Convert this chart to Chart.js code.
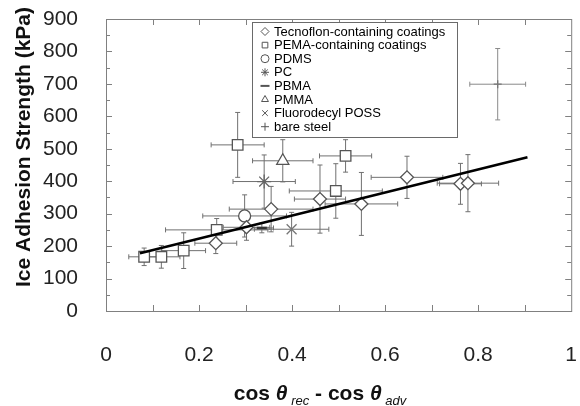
<!DOCTYPE html>
<html>
<head>
<meta charset="utf-8">
<script src="https://cdn.jsdelivr.net/npm/chart.js@4.4.1/dist/chart.umd.min.js"></script>
<style>
  html, body { margin: 0; padding: 0; background: #fff; }
</style>
</head>
<body>
<canvas id="chart" width="580" height="406"></canvas>
<script>
// axis tick labels
const xTickLabels = ['0', '0.2', '0.4', '0.6', '0.8', '1'];
const yTickLabels = ['0', '100', '200', '300', '400', '500', '600', '700', '800', '900'];

// Tecnoflon-containing coatings (diamonds)
const tecX = [0.236, 0.302, 0.355, 0.460, 0.549, 0.647, 0.762, 0.778];
const tecY = [209, 258, 314, 345, 330, 412, 392, 394];
const tecXErr = [0.045, 0.05, 0.09, 0.055, 0.078, 0.077, 0.045, 0.066];
const tecYErr = [32, 40, 70, 105, 97, 65, 63, 88];

// PEMA-containing coatings (squares)
const pemaX = [0.082, 0.119, 0.167, 0.238, 0.283, 0.494, 0.515];
const pemaY = [167, 167, 186, 250, 512, 370, 478];
const pemaXErr = [0.033, 0.04, 0.047, 0.11, 0.057, 0.1, 0.056];
const pemaYErr = [27, 35, 55, 35, 100, 84, 50];

// single materials
const pdmsX = [0.298], pdmsY = [293], pdmsXErr = [0.09], pdmsYErr = [65];
const pcX = [0.34], pcY = [399], pcXErr = [0.067], pcYErr = [82];
const pbmaX = [0.335], pbmaY = [256], pbmaXErr = [0.025], pbmaYErr = [15];
const pmmaX = [0.38], pmmaY = [463], pmmaXErr = [0.065], pmmaYErr = [65];
const possX = [0.399], possY = [252], possXErr = [0.08], possYErr = [52];
const steelX = [0.842], steelY = [699], steelXErr = [0.06], steelYErr = [110];

// linear fit, end points
const fitX = [0.073, 0.906];
const fitY = [178, 474];

const FONT = 'Liberation Sans, Arial, sans-serif';

function toPoints(xs, ys) {
  return xs.map((x, i) => ({ x: x, y: ys[i] }));
}

function series(label, xs, ys, xErr, yErr, style, radius, extra) {
  return Object.assign({
    label: label,
    data: toPoints(xs, ys),
    xErr: xErr,
    yErr: yErr,
    pointStyle: style,
    pointRadius: radius,
    pointBackgroundColor: '#fff',
    pointBorderColor: '#555',
    pointBorderWidth: 1.3
  }, extra || {});
}

// error bars under the markers
const errorBars = {
  id: 'errorBars',
  beforeDatasetsDraw(chart) {
    const ctx = chart.ctx;
    const xs = chart.scales.x, ys = chart.scales.y;
    ctx.save();
    chart.data.datasets.forEach(ds => {
      if (!ds.xErr) return;
      ctx.strokeStyle = ds.errColor || '#707070';
      ctx.lineWidth = 1;
      ds.data.forEach((p, i) => {
        const cx = xs.getPixelForValue(p.x), cy = ys.getPixelForValue(p.y);
        const x1 = xs.getPixelForValue(p.x - ds.xErr[i]), x2 = xs.getPixelForValue(p.x + ds.xErr[i]);
        const y1 = ys.getPixelForValue(p.y - ds.yErr[i]), y2 = ys.getPixelForValue(p.y + ds.yErr[i]);
        ctx.beginPath();
        ctx.moveTo(x1, cy); ctx.lineTo(x2, cy);
        ctx.moveTo(x1, cy - 2.5); ctx.lineTo(x1, cy + 2.5);
        ctx.moveTo(x2, cy - 2.5); ctx.lineTo(x2, cy + 2.5);
        ctx.moveTo(cx, y1); ctx.lineTo(cx, y2);
        ctx.moveTo(cx - 2.5, y1); ctx.lineTo(cx + 2.5, y1);
        ctx.moveTo(cx - 2.5, y2); ctx.lineTo(cx + 2.5, y2);
        ctx.stroke();
      });
    });
    ctx.restore();
  }
};

// box frame with inward ticks on all four sides
const frame = {
  id: 'frame',
  afterDraw(chart) {
    const ctx = chart.ctx;
    const a = chart.chartArea;
    const xs = chart.scales.x, ys = chart.scales.y;
    ctx.save();
    ctx.strokeStyle = '#808080';
    ctx.lineWidth = 1;
    ctx.strokeRect(a.left + 0.5, a.top + 0.5, a.right - a.left, a.bottom - a.top);
    ctx.beginPath();
    for (let i = 1; i < 18; i++) {
      const py = Math.round(ys.getPixelForValue(i * 50)) + 0.5;
      const len = i % 2 === 0 ? 6 : 4;
      ctx.moveTo(a.left, py); ctx.lineTo(a.left + len, py);
      ctx.moveTo(a.right, py); ctx.lineTo(a.right - len, py);
    }
    for (let i = 1; i < 10; i++) {
      const px = Math.round(xs.getPixelForValue(i / 10)) + 0.5;
      ctx.moveTo(px, a.bottom); ctx.lineTo(px, a.bottom - 6);
      ctx.moveTo(px, a.top); ctx.lineTo(px, a.top + 6);
    }
    ctx.stroke();
    ctx.restore();
  }
};

// boxed legend in the upper middle of the plot
const boxLegend = {
  id: 'boxLegend',
  afterDraw(chart) {
    const ctx = chart.ctx;
    ctx.save();
    ctx.fillStyle = '#fff';
    ctx.fillRect(252, 22, 205, 115);
    ctx.strokeStyle = '#6a6a6a';
    ctx.lineWidth = 1;
    ctx.strokeRect(252.5, 22.5, 205, 115);
    let row = 0;
    chart.data.datasets.forEach(ds => {
      if (!ds.xErr) return;
      const y = 31.5 + row * 13.6;
      ctx.fillStyle = '#fff';
      ctx.strokeStyle = '#555';
      ctx.lineWidth = ds.pointStyle === 'line' ? 2 : 1;
      Chart.helpers.drawPoint(ctx, { pointStyle: ds.pointStyle, radius: ds.pointStyle === 'line' ? 4.5 : 4, rotation: 0, borderWidth: ctx.lineWidth }, 265, y);
      ctx.fillStyle = '#000';
      ctx.font = '13px ' + FONT;
      ctx.textBaseline = 'middle';
      ctx.textAlign = 'left';
      ctx.fillText(ds.label, 274, y + 0.5);
      row++;
    });
    ctx.restore();
  }
};

// axis titles (x title has italic subscripts)
const titles = {
  id: 'titles',
  afterDraw(chart) {
    const ctx = chart.ctx;
    ctx.save();
    ctx.fillStyle = '#111';
    ctx.font = 'bold 21px ' + FONT;
    ctx.textAlign = 'center';
    ctx.textBaseline = 'middle';
    ctx.translate(24, 147);
    ctx.rotate(-Math.PI / 2);
    ctx.fillText('Ice Adhesion Strength (kPa)', 0, 0);
    ctx.restore();

    const parts = [
      { t: 'cos ', f: 'bold 21px ' + FONT, dy: 0 },
      { t: '\u03B8', f: 'bold italic 21px ' + FONT, dy: 0 },
      { t: ' rec', f: 'italic 13px ' + FONT, dy: 5 },
      { t: ' - cos ', f: 'bold 21px ' + FONT, dy: 0 },
      { t: '\u03B8', f: 'bold italic 21px ' + FONT, dy: 0 },
      { t: ' adv', f: 'italic 13px ' + FONT, dy: 5 }
    ];
    ctx.save();
    ctx.fillStyle = '#111';
    ctx.textBaseline = 'alphabetic';
    ctx.textAlign = 'left';
    let total = 0;
    parts.forEach(p => { ctx.font = p.f; total += ctx.measureText(p.t).width; });
    let x = 320 - total / 2;
    parts.forEach(p => {
      ctx.font = p.f;
      ctx.fillText(p.t, x, 400 + p.dy);
      x += ctx.measureText(p.t).width;
    });
    ctx.restore();
  }
};

const datasets = [
  {
    type: 'line',
    label: 'fit',
    data: toPoints(fitX, fitY),
    borderColor: '#000',
    borderWidth: 2.6,
    pointRadius: 0,
    showLine: true,
    fill: false
  },
  series('Tecnoflon-containing coatings', tecX, tecY, tecXErr, tecYErr, 'rectRot', 6.5),
  series('PEMA-containing coatings', pemaX, pemaY, pemaXErr, pemaYErr, 'rect', 7.5),
  series('PDMS', pdmsX, pdmsY, pdmsXErr, pdmsYErr, 'circle', 6),
  series('PC', pcX, pcY, pcXErr, pcYErr, 'star', 7, { pointBorderColor: '#666' }),
  series('PBMA', pbmaX, pbmaY, pbmaXErr, pbmaYErr, 'line', 5, { pointBorderColor: '#333', pointBorderWidth: 2.5 }),
  series('PMMA', pmmaX, pmmaY, pmmaXErr, pmmaYErr, 'triangle', 7),
  series('Fluorodecyl POSS', possX, possY, possXErr, possYErr, 'crossRot', 7, { pointBorderColor: '#777' }),
  series('bare steel', steelX, steelY, steelXErr, steelYErr, 'cross', 4, { pointBorderColor: '#777', errColor: '#8a8a8a' })
];

new Chart(document.getElementById('chart'), {
  type: 'scatter',
  data: { datasets: datasets },
  options: {
    responsive: false,
    animation: false,
    layout: { padding: { top: 19, right: 6, left: 0, bottom: 0 } },
    plugins: {
      legend: { display: false },
      tooltip: { enabled: false }
    },
    scales: {
      x: {
        type: 'linear',
        min: 0,
        max: 1,
        grid: { display: false },
        border: { display: false },
        ticks: {
          stepSize: 0.2,
          padding: 24,
          color: '#222',
          font: { family: FONT, size: 21 },
          maxRotation: 0,
          callback: (v, i) => xTickLabels[i]
        },
        afterFit: s => { s.height = 95; s.paddingLeft = 0; s.paddingRight = 0; }
      },
      y: {
        type: 'linear',
        min: 0,
        max: 900,
        grid: { display: false },
        border: { display: false },
        ticks: {
          stepSize: 100,
          padding: 20,
          color: '#222',
          font: { family: FONT, size: 21 },
          callback: (v, i) => yTickLabels[i]
        },
        afterFit: s => { s.width = 106; s.paddingTop = 0; s.paddingBottom = 0; }
      }
    }
  },
  plugins: [errorBars, frame, boxLegend, titles]
});
</script>
</body>
</html>
